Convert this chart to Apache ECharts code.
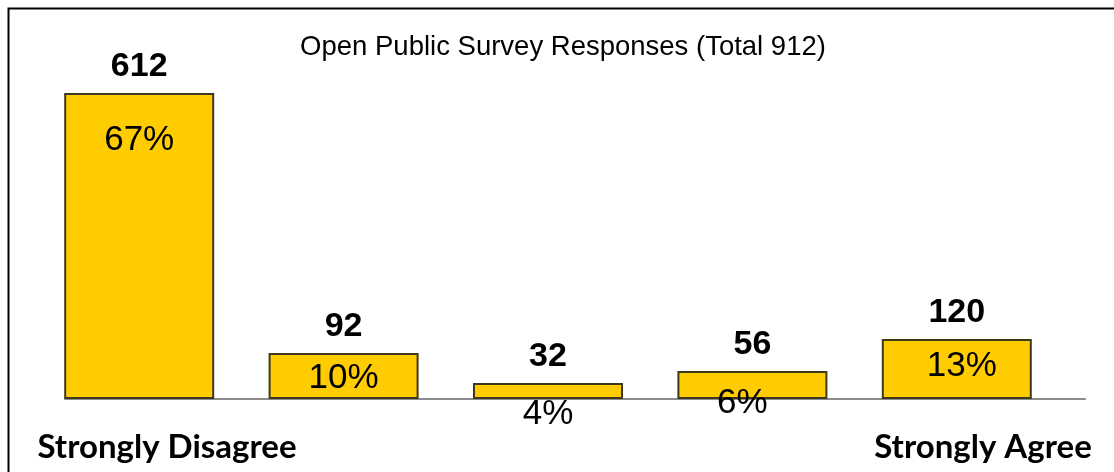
<!DOCTYPE html>
<html>
<head>
<meta charset="utf-8">
<style>
  html, body { margin: 0; padding: 0; background: #ffffff; }
  #chart { width: 1114px; height: 472px; }
</style>
<script src="https://cdn.jsdelivr.net/npm/echarts@6/dist/echarts.min.js"></script>
</head>
<body>
<div id="chart"></div>
<script>
// Survey response counts, lowest agreement to highest
const responseCounts = [612, 92, 32, 56, 120];
// Share of all responses, percent
const responseShares = [67, 10, 4, 6, 13];
// Scale end labels (only the two extremes are named)
const scaleLabels = ['Strongly Disagree', '', '', '', 'Strongly Agree'];
const chartTitle = 'Open Public Survey Responses (Total 912)';

// Per-bar nudges for the percentage labels
const shareLabelShift = [[0, 30], [0, 8], [0, 14], [-10, 15], [5, 10]];

const chart = echarts.init(document.getElementById('chart'), null, { renderer: 'canvas' });

const yMax = 612;

chart.setOption({
  animation: false,
  backgroundColor: '#ffffff',
  title: {
    text: chartTitle,
    left: 558,
    top: 28,
    textAlign: 'center',
    textStyle: {
      fontFamily: 'Liberation Sans, Arial, sans-serif',
      fontSize: 27.5,
      fontWeight: 'normal',
      color: '#000000'
    }
  },
  graphic: [{
    type: 'rect',
    shape: { x: 8.5, y: 8.5, width: 1200, height: 600 },
    style: { fill: 'none', stroke: '#000000', lineWidth: 2 },
    silent: true,
    z: 0
  }],
  grid: [
    { left: 37, width: 1022, top: 93, bottom: 73 },
    { left: 65, width: 1020, top: 93, bottom: 73 }
  ],
  xAxis: [
    {
      type: 'category',
      gridIndex: 0,
      data: scaleLabels,
      axisLine: { show: false },
      axisTick: { show: false },
      axisLabel: { show: false }
    },
    {
      type: 'category',
      gridIndex: 1,
      data: scaleLabels,
      axisLine: { show: true, lineStyle: { color: '#8c8c8c', width: 2 } },
      axisTick: { show: false },
      axisLabel: {
        show: true,
        interval: 0,
        margin: 32,
        color: '#000000',
        fontFamily: 'Lato, sans-serif',
        fontWeight: 'bold',
        fontSize: 33
      },
      z: 1
    }
  ],
  yAxis: [
    { type: 'value', gridIndex: 0, min: 0, max: yMax, show: false, splitLine: { show: false } },
    { type: 'value', gridIndex: 1, min: 0, max: yMax, show: false, splitLine: { show: false } }
  ],
  series: [
    {
      type: 'bar',
      xAxisIndex: 0,
      yAxisIndex: 0,
      barWidth: 150,
      z: 2,
      itemStyle: {
        color: '#ffcc00',
        borderColor: '#40381c',
        borderWidth: 2
      },
      data: responseCounts.map((v, i) => ({
        value: v,
        label: {
          show: true,
          position: 'insideTop',
          distance: 0,
          offset: shareLabelShift[i],
          formatter: responseShares[i] + '%',
          fontFamily: 'Liberation Sans, Arial, sans-serif',
          fontSize: 35,
          color: '#000000'
        }
      }))
    },
    {
      type: 'bar',
      xAxisIndex: 0,
      yAxisIndex: 0,
      barWidth: 150,
      barGap: '-100%',
      z: 3,
      itemStyle: { color: 'rgba(0,0,0,0)' },
      label: {
        show: true,
        position: 'top',
        distance: 9,
        fontFamily: 'Liberation Sans, Arial, sans-serif',
        fontWeight: 'bold',
        fontSize: 34,
        color: '#000000'
      },
      data: responseCounts
    }
  ]
});
</script>
</body>
</html>
